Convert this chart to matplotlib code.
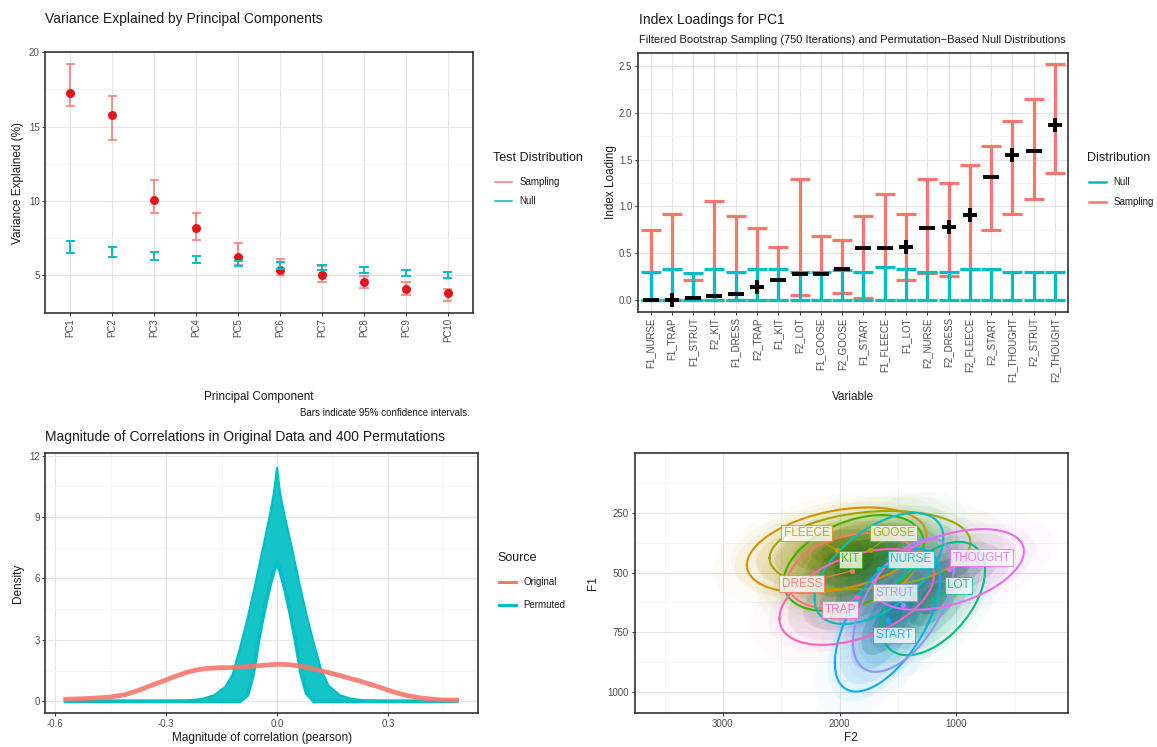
import matplotlib

matplotlib.use("Agg")
import matplotlib.pyplot as plt
import numpy as np
from matplotlib.colors import to_rgb
from matplotlib.lines import Line2D
from matplotlib.ticker import FixedLocator


W_PX, H_PX = 1157, 747

SAMPLING_COL = "#F8766D"
NULL_COL = "#00BFC4"
POINT_RED = "#E3141C"
TICK_GREY = "#4D4D4D"
TEXT_DARK = "#1A1A1A"

# variance explained per principal component (%)
PCS = ["PC1", "PC2", "PC3", "PC4", "PC5", "PC6", "PC7", "PC8", "PC9", "PC10"]
VAR_MEAN = [17.25, 15.75, 10.07, 8.18, 6.19, 5.37, 4.98, 4.53, 4.06, 3.79]
VAR_LO = [16.40, 14.08, 9.17, 7.38, 5.70, 5.00, 4.57, 4.10, 3.66, 3.27]
VAR_HI = [19.20, 17.04, 11.41, 9.17, 7.17, 6.10, 5.60, 4.94, 4.53, 4.08]
NULL_VAR_LO = [6.48, 6.24, 6.03, 5.81, 5.60, 5.43, 5.33, 5.12, 4.93, 4.78]
NULL_VAR_HI = [7.31, 6.89, 6.57, 6.26, 5.98, 5.87, 5.70, 5.54, 5.33, 5.20]

# index loadings for PC1
VARIABLES = [
    "F1_NURSE", "F1_TRAP", "F1_STRUT", "F2_KIT", "F1_DRESS", "F2_TRAP", "F1_KIT",
    "F2_LOT", "F1_GOOSE", "F2_GOOSE", "F1_START", "F1_FLEECE", "F1_LOT", "F2_NURSE",
    "F2_DRESS", "F2_FLEECE", "F2_START", "F1_THOUGHT", "F2_STRUT", "F2_THOUGHT",
]
LOADING = [0.00, 0.00, 0.025, 0.043, 0.064, 0.135, 0.213, 0.277, 0.277, 0.327,
           0.551, 0.551, 0.569, 0.764, 0.782, 0.906, 1.315, 1.546, 1.588, 1.866]
LOADING_SIGN = ["-", "+", "-", "-", "-", "+", "-", "-", "-", "-",
                "-", "-", "+", "-", "+", "+", "-", "+", "-", "+"]
BOOT_LO = [0.00, 0.00, 0.00, 0.00, 0.00, 0.00, 0.00, 0.053, 0.00, 0.071,
           0.02, 0.00, 0.213, 0.29, 0.256, 0.33, 0.746, 0.913, 1.077, 1.358]
BOOT_HI = [0.746, 0.913, 0.213, 1.055, 0.895, 0.764, 0.569, 1.290, 0.682, 0.640,
           0.895, 1.127, 0.913, 1.290, 1.254, 1.446, 1.642, 1.912, 2.143, 2.523]
PERM_LO = [0.0] * 20
PERM_HI = [0.30, 0.327, 0.29, 0.327, 0.30, 0.327, 0.327, 0.30, 0.30, 0.315,
           0.30, 0.355, 0.327, 0.30, 0.30, 0.327, 0.327, 0.30, 0.30, 0.30]

# correlation magnitude densities
ORIG_X = [-0.572, -0.52, -0.455, -0.41, -0.374, -0.34, -0.302, -0.275, -0.247, -0.22,
          -0.193, -0.155, -0.121, -0.067, -0.03, 0.003, 0.03, 0.059, 0.085, 0.113,
          0.14, 0.168, 0.195, 0.222, 0.249, 0.276, 0.303, 0.33, 0.357, 0.384, 0.415,
          0.447, 0.486]
ORIG_Y = [0.10, 0.13, 0.20, 0.33, 0.54, 0.78, 1.03, 1.22, 1.40, 1.52,
          1.60, 1.64, 1.65, 1.71, 1.77, 1.81, 1.79, 1.73, 1.64, 1.52,
          1.40, 1.27, 1.13, 1.00, 0.85, 0.70, 0.53, 0.38, 0.27, 0.18, 0.11,
          0.07, 0.06]
# upper and lower edges of the bundle of permuted densities
PERM_OUTER_X = [-0.572, -0.30, -0.24, -0.20, -0.17, -0.14, -0.12, -0.10, -0.08, -0.06,
                -0.04, -0.02, -0.008, 0.0, 0.008, 0.02, 0.04, 0.06, 0.08, 0.10,
                0.12, 0.14, 0.17, 0.20, 0.24, 0.30, 0.486]
PERM_OUTER_Y = [0.0, 0.01, 0.04, 0.12, 0.30, 0.70, 1.30, 2.60, 4.00, 5.60,
                7.30, 9.00, 10.20, 11.40, 10.20, 9.10, 7.50, 5.80, 4.20, 2.80,
                1.50, 0.75, 0.30, 0.12, 0.04, 0.01, 0.0]
PERM_INNER_X = [-0.572, -0.10, -0.08, -0.065, -0.05, -0.035, -0.02, -0.008, 0.0,
                0.008, 0.02, 0.035, 0.05, 0.065, 0.08, 0.10, 0.486]
PERM_INNER_Y = [0.0, 0.0, 0.30, 1.30, 3.00, 4.40, 5.60, 6.40, 6.80,
                6.40, 5.60, 4.40, 3.00, 1.40, 0.40, 0.0, 0.0]

# vowel formant summaries (Hz)
VOWELS = ["DRESS", "FLEECE", "GOOSE", "KIT", "LOT", "NURSE", "START", "STRUT", "THOUGHT", "TRAP"]
VOWEL_COLS = ["#F8766D", "#D89000", "#A3A500", "#39B600", "#00BF7D",
              "#00BFC4", "#00B0F6", "#9590FF", "#E76BF3", "#FF62BC"]
MEAN_F2 = [1897, 2025, 1740, 1880, 1198, 1663, 1590, 1455, 1061, 1854]
MEAN_F1 = [493, 406, 406, 460, 609, 483, 700, 637, 487, 602]
SD_F2 = [224, 314, 351, 245, 181, 225, 184, 176, 261, 270]
SD_F1 = [65, 73, 67, 82, 97, 95, 122, 114, 69, 82]
RHO = [0.30, 0.35, 0.20, 0.40, 0.50, 0.55, 0.60, 0.55, 0.45, 0.45]
LABEL_F2 = [2325, 2282, 1540, 1911, 984, 1392, 1532, 1526, 783, 1997]
LABEL_F1 = [546, 334, 334, 444, 553, 444, 762, 585, 437, 655]
ELLIPSE_R = 2.45

# cloud drawing order, later vowels sit on top
CLOUD_ORDER = ["DRESS", "TRAP", "FLEECE", "GOOSE", "NURSE", "STRUT", "THOUGHT", "START", "LOT", "KIT"]
# (radius in sd, alpha, darkening)
CLOUD_SHELLS = [(3.4, 0.035, 0.0), (2.8, 0.06, 0.0), (2.2, 0.10, 0.1),
                (1.7, 0.15, 0.25), (1.2, 0.20, 0.4), (0.7, 0.24, 0.5)]


def rect(left, top, right, bottom):
    return [left / W_PX, 1 - bottom / H_PX, (right - left) / W_PX, (bottom - top) / H_PX]


def ftext(fig, x, y, s, **kw):
    kw.setdefault("color", TEXT_DARK)
    kw.setdefault("va", "center")
    fig.text(x / W_PX, 1 - y / H_PX, s, **kw)


def legend(fig, x, y, title, items, lw):
    ftext(fig, x, y, title, fontsize=9, ha="left")
    for label, color, yy in items:
        fig.add_artist(Line2D([(x + 2) / W_PX, (x + 19) / W_PX], [1 - yy / H_PX] * 2,
                              color=color, lw=lw, transform=fig.transFigure))
        ftext(fig, x + 26.5, yy, label, fontsize=7, ha="left")


def style(ax):
    ax.set_facecolor("white")
    for sp in ax.spines.values():
        sp.set_color("#333333")
        sp.set_linewidth(1.2)
    ax.grid(True, which="major", color="#E5E5E5", linewidth=0.8)
    ax.grid(True, which="minor", color="#F2F2F2", linewidth=0.5)
    ax.set_axisbelow(True)
    ax.tick_params(which="major", length=2.5, width=0.7, color="#333333",
                   labelsize=7, labelcolor=TICK_GREY, pad=1.5)
    ax.tick_params(which="minor", length=0)


def draw_variance(ax):
    style(ax)
    x = np.arange(1, len(PCS) + 1)
    cap = 0.11
    ax.vlines(x, VAR_LO, VAR_HI, color=SAMPLING_COL, lw=1.1, zorder=3)
    ax.hlines(VAR_LO, x - cap, x + cap, color=SAMPLING_COL, lw=1.1, zorder=3)
    ax.hlines(VAR_HI, x - cap, x + cap, color=SAMPLING_COL, lw=1.1, zorder=3)
    ax.scatter(x, VAR_MEAN, s=42, color=POINT_RED, lw=0, zorder=4)
    ax.vlines(x, NULL_VAR_LO, NULL_VAR_HI, color=NULL_COL, lw=1.4, zorder=5)
    ax.hlines(NULL_VAR_LO, x - cap, x + cap, color=NULL_COL, lw=1.4, zorder=5)
    ax.hlines(NULL_VAR_HI, x - cap, x + cap, color=NULL_COL, lw=1.4, zorder=5)
    ax.set_xlim(0.4, len(PCS) + 0.6)
    ax.set_ylim(2.47, 20.0)
    ax.set_xticks(x)
    ax.set_xticklabels(PCS, rotation=90)
    ax.set_yticks([5, 10, 15, 20])
    ax.yaxis.set_minor_locator(FixedLocator([7.5, 12.5, 17.5]))


def draw_loadings(ax):
    style(ax)
    x = np.arange(1, len(VARIABLES) + 1)
    half = 0.47
    ax.vlines(x, BOOT_LO, BOOT_HI, color=SAMPLING_COL, lw=2.3, zorder=3)
    ax.hlines(BOOT_LO, x - half, x + half, color=SAMPLING_COL, lw=2.3, zorder=3)
    ax.hlines(BOOT_HI, x - half, x + half, color=SAMPLING_COL, lw=2.3, zorder=3)
    ax.vlines(x, PERM_LO, PERM_HI, color=NULL_COL, lw=2.3, zorder=4)
    ax.hlines(PERM_LO, x - half, x + half, color=NULL_COL, lw=2.3, zorder=4)
    ax.hlines(PERM_HI, x - half, x + half, color=NULL_COL, lw=2.3, zorder=4)
    for xi, val, sign in zip(x, LOADING, LOADING_SIGN):
        if sign == "+":
            ax.plot(xi, val, marker="+", ms=9.5, mew=2.8, color="black", zorder=6)
        else:
            ax.plot(xi, val, marker="_", ms=11, mew=2.8, color="black", zorder=6)
    ax.set_xlim(0.4, len(VARIABLES) + 0.6)
    ax.set_ylim(-0.126, 2.635)
    ax.set_xticks(x)
    ax.set_xticklabels(VARIABLES, rotation=90)
    ticks = [0.0, 0.5, 1.0, 1.5, 2.0, 2.5]
    ax.set_yticks(ticks)
    ax.set_yticklabels([f"{t:.1f}" for t in ticks])
    ax.yaxis.set_minor_locator(FixedLocator([0.25, 0.75, 1.25, 1.75, 2.25]))


def draw_density(ax):
    style(ax)
    band_x = np.r_[PERM_OUTER_X, PERM_INNER_X[::-1]]
    band_y = np.r_[PERM_OUTER_Y, PERM_INNER_Y[::-1]]
    ax.fill(band_x, band_y, color=NULL_COL, alpha=0.92, lw=0, zorder=3)
    ax.plot(PERM_INNER_X, PERM_INNER_Y, color=NULL_COL, lw=2.8, zorder=3)
    ax.plot(PERM_OUTER_X, PERM_OUTER_Y, color=NULL_COL, lw=1.6, zorder=3)
    ax.plot(ORIG_X, ORIG_Y, color=SAMPLING_COL, lw=3.4, alpha=0.9, zorder=4)
    ax.set_xlim(-0.627, 0.544)
    ax.set_ylim(-0.586, 12.11)
    ax.set_xticks([-0.6, -0.3, 0.0, 0.3])
    ax.set_xticklabels(["-0.6", "-0.3", "0.0", "0.3"])
    ax.xaxis.set_minor_locator(FixedLocator([-0.45, -0.15, 0.15, 0.45]))
    ax.set_yticks([0, 3, 6, 9, 12])
    ax.yaxis.set_minor_locator(FixedLocator([1.5, 4.5, 7.5, 10.5]))


def ellipse_xy(mx, my, sx, sy, rho, r, n=120):
    t = np.linspace(0, 2 * np.pi, n)
    xs = mx + r * sx * np.cos(t)
    ys = my + r * sy * (rho * np.cos(t) + np.sqrt(1 - rho ** 2) * np.sin(t))
    return xs, ys


def shade(color, k):
    return tuple(c * (1 - k) for c in to_rgb(color))


def draw_vowels(ax):
    style(ax)
    for name in CLOUD_ORDER:
        i = VOWELS.index(name)
        for r, a, k in CLOUD_SHELLS:
            xs, ys = ellipse_xy(MEAN_F2[i], MEAN_F1[i], SD_F2[i], SD_F1[i], RHO[i], r)
            ax.fill(xs, ys, color=shade(VOWEL_COLS[i], k), alpha=a, lw=0, zorder=2)
    for i in range(len(VOWELS)):
        xs, ys = ellipse_xy(MEAN_F2[i], MEAN_F1[i], SD_F2[i], SD_F1[i], RHO[i], ELLIPSE_R)
        ax.plot(xs, ys, color=VOWEL_COLS[i], lw=1.5, zorder=3)
    for i, name in enumerate(VOWELS):
        col = VOWEL_COLS[i]
        ax.plot([MEAN_F2[i], LABEL_F2[i]], [MEAN_F1[i], LABEL_F1[i]], color=col, lw=0.8, zorder=4)
        ax.scatter(MEAN_F2[i], MEAN_F1[i], s=14, color=col, lw=0, zorder=5)
        ax.text(LABEL_F2[i], LABEL_F1[i], name, fontsize=8.5, color=col, ha="center", va="center",
                alpha=0.85, zorder=6,
                bbox=dict(boxstyle="square,pad=0.2", fc="white", ec=col, lw=0.7, alpha=0.78))
    ax.set_xlim(3757, 44)
    ax.set_ylim(1090, 0)
    ax.set_xticks([3000, 2000, 1000])
    ax.xaxis.set_minor_locator(FixedLocator([3500, 2500, 1500, 500]))
    ax.set_yticks([250, 500, 750, 1000])
    ax.yaxis.set_minor_locator(FixedLocator([125, 375, 625, 875]))


def main():
    plt.rcParams["font.family"] = ["Liberation Sans", "DejaVu Sans"]
    fig = plt.figure(figsize=(W_PX / 100, H_PX / 100), dpi=100)
    fig.patch.set_facecolor("white")

    draw_variance(fig.add_axes(rect(45.3, 52.3, 473, 312.7)))
    draw_loadings(fig.add_axes(rect(637.8, 53.3, 1067.7, 311.7)))
    draw_density(fig.add_axes(rect(45.3, 453.3, 478, 713.3)))
    draw_vowels(fig.add_axes(rect(634.5, 453.3, 1068, 713.3)))

    ftext(fig, 45, 19, "Variance Explained by Principal Components", fontsize=10, ha="left")
    ftext(fig, 18, 182.5, "Variance Explained (%)", fontsize=8.5, ha="center", rotation=90)
    ftext(fig, 259, 397, "Principal Component", fontsize=8.5, ha="center")
    ftext(fig, 470, 413, "Bars indicate 95% confidence intervals.", fontsize=7, ha="right")
    legend(fig, 492.7, 158, "Test Distribution",
           [("Sampling", SAMPLING_COL, 181.7), ("Null", NULL_COL, 201.3)], lw=1.1)

    ftext(fig, 639, 20, "Index Loadings for PC1", fontsize=10, ha="left")
    ftext(fig, 639, 40, "Filtered Bootstrap Sampling (750 Iterations) and Permutation\u2212Based Null Distributions",
          fontsize=8, ha="left")
    ftext(fig, 611, 182.5, "Index Loading", fontsize=8.5, ha="center", rotation=90)
    ftext(fig, 852.7, 397, "Variable", fontsize=8.5, ha="center")
    legend(fig, 1086.7, 158, "Distribution",
           [("Null", NULL_COL, 181.7), ("Sampling", SAMPLING_COL, 201.7)], lw=1.8)

    ftext(fig, 45, 437, "Magnitude of Correlations in Original Data and 400 Permutations", fontsize=10, ha="left")
    ftext(fig, 18, 583, "Density", fontsize=8.5, ha="center", rotation=90)
    ftext(fig, 261.7, 738, "Magnitude of correlation (pearson)", fontsize=8.5, ha="center")
    legend(fig, 497, 558, "Source",
           [("Original", SAMPLING_COL, 582), ("Permuted", NULL_COL, 605)], lw=2.2)

    ftext(fig, 851, 738, "F2", fontsize=8.5, ha="center")
    ftext(fig, 593, 583, "F1", fontsize=8.5, ha="center", rotation=90)

    fig.savefig("out.png", dpi=100)
    plt.close(fig)


if __name__ == "__main__":
    main()
